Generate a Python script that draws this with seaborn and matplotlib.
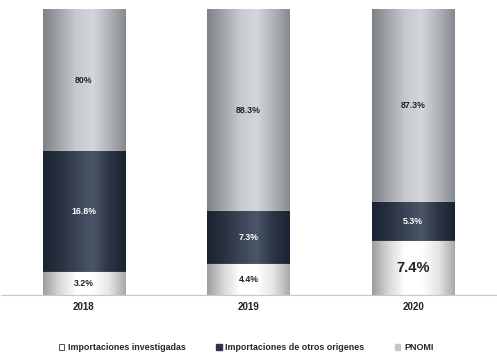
import matplotlib
matplotlib.use("Agg")
import matplotlib.pyplot as plt
import numpy as np
import pandas as pd
import seaborn as sns
from matplotlib.colors import LinearSegmentedColormap
from matplotlib.patches import Patch

years = ["2018", "2019", "2020"]
# label values shown on the chart (%)
investigadas = [3.2, 4.4, 7.4]
otros = [16.8, 7.3, 5.3]
pnomi = [80.0, 88.3, 87.3]
# segment heights as drawn in the picture (share of bar height, %)
h_investigadas = [8.1, 11.0, 18.9]
h_otros = [42.1, 18.2, 13.6]
h_pnomi = [49.8, 70.8, 67.5]
series_names = ["Importaciones investigadas", "Importaciones de otros origenes", "PNOMI"]

sns.set_theme(style="white")
plt.rcParams['font.family'] = ['Liberation Sans', 'DejaVu Sans']

fig = plt.figure(figsize=(4.97, 3.57), dpi=100)
ax = fig.add_axes([0.003, 0.1737, 0.994, 0.801])

df = pd.DataFrame({"year": years, "inv": h_investigadas, "otros": h_otros, "pnomi": h_pnomi})
df["cum_otros"] = df["inv"] + df["otros"]
df["cum_pnomi"] = df["cum_otros"] + df["pnomi"]

base_colors = ["#f2f2f2", "#2c3648", "#b4b7bc"]
grad_stops = [
    ["#9c9c9c", "#d8d8d8", "#ffffff", "#ffffff", "#e6e6e6", "#a8a8a8"],
    ["#1a2230", "#28313f", "#3a4456", "#4b5668", "#2c3546", "#1b2331"],
    ["#7e8287", "#a2a6ab", "#c6c9ce", "#d3d6da", "#b0b3b8", "#86898e"],
]

sns.barplot(data=df, x="year", y="cum_pnomi", color=base_colors[2], width=0.5,
            ax=ax, edgecolor="white", linewidth=0.8)
sns.barplot(data=df, x="year", y="cum_otros", color=base_colors[1], width=0.5,
            ax=ax, edgecolor="white", linewidth=0.8)
sns.barplot(data=df, x="year", y="inv", color=base_colors[0], width=0.5,
            ax=ax, edgecolor="white", linewidth=0.8)

n = len(years)
groups = [ax.patches[i * n:(i + 1) * n] for i in range(3)]
grad_index = {0: 2, 1: 1, 2: 0}
for gi, group in enumerate(groups):
    cmap = LinearSegmentedColormap.from_list("g%d" % gi, grad_stops[grad_index[gi]])
    for p in group:
        x0, y0 = p.get_x(), p.get_y()
        w, h = p.get_width(), p.get_height()
        grad = np.linspace(0, 1, 256).reshape(1, -1)
        im = ax.imshow(grad, extent=[x0, x0 + w, y0, y0 + h], cmap=cmap,
                       aspect="auto", zorder=p.get_zorder() + 0.01 + gi * 0.1,
                       interpolation="bicubic")
        im.set_clip_path(p)
        p.set_zorder(p.get_zorder() + gi * 0.1)

ax.set_xlim(-0.5, 2.5)
ax.set_ylim(0, 100)

for i in range(n):
    y_inv = h_investigadas[i] / 2
    y_ot = h_investigadas[i] + h_otros[i] / 2
    y_pn = h_investigadas[i] + h_otros[i] + h_pnomi[i] / 2
    if i == 2:
        ax.text(i, y_inv, f"{investigadas[i]:g}%", ha="center", va="center",
                fontsize=10.5, fontweight="bold", color="#222222", zorder=10)
    else:
        ax.text(i, y_inv, f"{investigadas[i]:g}%", ha="center", va="center",
                fontsize=6.3, fontweight="bold", color="#222222", zorder=10)
    ax.text(i, y_ot, f"{otros[i]:g}%", ha="center", va="center",
            fontsize=6.3, fontweight="bold", color="white", zorder=10)
    ax.text(i, y_pn, f"{pnomi[i]:g}%", ha="center", va="center",
            fontsize=6.3, fontweight="bold", color="#222222", zorder=10)

ax.set_xlabel("")
ax.set_ylabel("")
ax.set_yticks([])
for s in ["top", "right", "left"]:
    ax.spines[s].set_visible(False)
ax.spines["bottom"].set_color("#c8c8c8")
ax.spines["bottom"].set_linewidth(0.8)
ax.tick_params(axis="x", length=0, pad=5, labelsize=7, colors="#222222")
for lbl in ax.get_xticklabels():
    lbl.set_fontweight("bold")

handles = [
    Patch(facecolor="white", edgecolor="#333333", linewidth=0.6),
    Patch(facecolor="#2c3648", edgecolor="#2c3648"),
    Patch(facecolor="#c4c6c9", edgecolor="#c4c6c9"),
]
fig.legend(handles, series_names, loc="center", bbox_to_anchor=(0.495, 0.026),
           ncol=3, frameon=False, handlelength=0.65, handleheight=0.65,
           handletextpad=0.4, columnspacing=3.4, prop={"weight": "bold", "size": 6.4})

fig.savefig("out.png", dpi=100)
